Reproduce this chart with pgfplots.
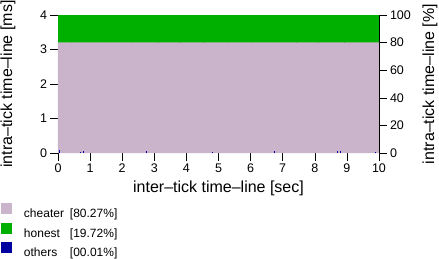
\documentclass[border=0pt]{standalone}
\usepackage{pgfplots}
\pgfplotsset{compat=1.18}
\usepackage{fontspec}
\setmainfont{Liberation Sans}
\definecolor{cheater}{RGB}{202,180,204}
\definecolor{honest}{RGB}{0,176,0}
\definecolor{others}{RGB}{0,0,160}
\newcommand{\lbl}{\fontsize{16}{16}\selectfont}
\newcommand{\tck}{\fontsize{12.5}{12.5}\selectfont}
\begin{document}
\begin{tikzpicture}
\useasboundingbox (-58pt,-105pt) rectangle (381pt,15pt+138pt);
\begin{axis}[
  at={(0,0)}, anchor=south west,
  scale only axis, width=321pt, height=138pt,
  xmin=0, xmax=10, ymin=0, ymax=4,
  xtick={0,1,...,10}, ytick={0,1,2,3,4},
  axis x line*=bottom, axis y line*=left,
  axis line style={draw=none},
  tick align=outside, major tick length=7.5pt,
  tick style={black, line width=0.6pt},
  /pgf/number format/assume math mode=true,
  ticklabel style={font=\tck},
  xlabel={inter--tick time--line [sec]},
  ylabel={intra--tick time--line [ms]},
  label style={font=\lbl},
  x label style={at={(axis description cs:0.5,-0.2536)}, anchor=center},
  y label style={at={(axis description cs:-0.1558,0.5)}, anchor=center},
  legend style={at={(axis description cs:-0.1776,-0.362)}, anchor=north west,
    draw=none, fill=none, inner sep=0pt, outer sep=0pt, row sep=3.5pt,
    column sep=12pt, font=\fontsize{12}{12}\selectfont,
    nodes={inner sep=0pt}},
  legend cell align=left,
  legend image code/.code={\fill[#1, draw=none] (0pt,0pt) rectangle (11pt,11pt);},
]
% honest fills full height, cheater drawn on top
\addplot[fill=honest, draw=none, forget plot] coordinates {(0,4) (10,4)} \closedcycle;
\addplot[fill=cheater, draw=none, forget plot] coordinates {
(0,3.21) (0.40,3.21) (0.42,3.19) (0.44,3.21) (1.00,3.21) (1.02,3.19) (1.04,3.21)
(1.60,3.21) (1.62,3.19) (1.64,3.21) (2.30,3.21) (2.32,3.19) (2.34,3.21)
(3.10,3.21) (3.12,3.19) (3.14,3.21) (3.80,3.21) (3.82,3.19) (3.84,3.21)
(4.50,3.21) (4.52,3.19) (4.54,3.21) (5.30,3.21) (5.32,3.19) (5.34,3.21)
(6.00,3.21) (6.02,3.19) (6.04,3.21) (6.70,3.21) (6.72,3.19) (6.74,3.21)
(7.40,3.21) (7.42,3.19) (7.44,3.21) (8.10,3.21) (8.12,3.19) (8.14,3.21)
(8.90,3.21) (8.92,3.19) (8.94,3.21) (9.60,3.21) (9.62,3.19) (9.64,3.21)
(10,3.21)} \closedcycle;
\addplot[ycomb, draw=others, line width=1pt, mark=none, forget plot] coordinates {
(0.05,0.09) (0.7,0.04) (0.8,0.07) (2.75,0.05) (4.8,0.04) (6.75,0.05)
(8.72,0.05) (8.8,0.05) (9.9,0.04)};
\addlegendimage{fill=cheater}
\addlegendentry{\makebox[46pt][l]{cheater}[80.27\%]}
\addlegendimage{fill=honest}
\addlegendentry{\makebox[46pt][l]{honest}[19.72\%]}
\addlegendimage{fill=others}
\addlegendentry{\makebox[46pt][l]{others}[00.01\%]}
\end{axis}
\begin{axis}[
  at={(0,0)}, anchor=south west,
  scale only axis, width=321pt, height=138pt,
  xmin=0, xmax=10, ymin=0, ymax=100,
  axis y line*=right, axis x line=none,
  ytick={0,20,...,100},
  axis line style={black, line width=0.6pt},
  tick align=outside, major tick length=7.5pt,
  tick style={black, line width=0.6pt},
  /pgf/number format/assume math mode=true,
  ticklabel style={font=\tck},
  ylabel={intra--tick time--line [\%]},
  label style={font=\lbl},
  y label style={at={(axis description cs:1.159,0.5)}, anchor=center},
]
\end{axis}
\end{tikzpicture}
\end{document}
